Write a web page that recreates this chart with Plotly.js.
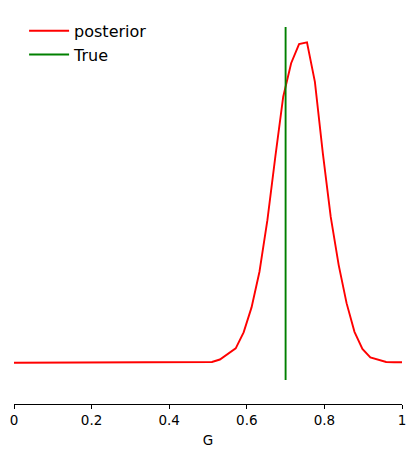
<!DOCTYPE html>
<html>
<head>
<meta charset="utf-8">
<script src="https://cdn.plot.ly/plotly-3.0.1.min.js"></script>
<style>html,body{margin:0;padding:0;background:#fff;}#chart{width:416px;height:457px;}</style>
</head>
<body>
<div id="chart"></div>
<script>
// Grid of G values (50 points from 0 to 1)
const gGrid = Array.from({length: 50}, (_, i) => i / 49);
// Posterior density
const posterior = [
  0,0,0,0,0,0,0,0,0,0,
  0,0,0,0,0,0,0,0,0,0,
  0,0,0,0,0.002,0.013,0.06,0.17,0.27,0.57,
  1.04,1.71,2.68,3.87,5.00,5.63,5.99,6.02,5.28,3.94,
  2.74,1.84,1.12,0.58,0.26,0.10,0.055,0.013,0.01,0.008
];
const trueG = 0.7;
const seriesNames = ['posterior', 'True'];
const xTicks = [0, 0.2, 0.4, 0.6, 0.8, 1];
const xTickText = ['0', '0.2', '0.4', '0.6', '0.8', '1'];

const yRange = [-0.776, 6.31];
// vertical "True" line spans from slightly below plot data area to top
const vBottom = yRange[0] + (yRange[1] - yRange[0]) * 0.0637;

const font = {family: 'DejaVu Sans, sans-serif', color: '#000'};

const traces = [
  {x: gGrid, y: posterior, type: 'scatter', mode: 'lines', name: seriesNames[0],
   line: {color: '#ff0000', width: 1.9}},
  {x: [trueG, trueG], y: [vBottom, yRange[1]], type: 'scatter', mode: 'lines', name: seriesNames[1],
   line: {color: '#008000', width: 1.9}}
];

const layout = {
  width: 416, height: 457,
  margin: {l: 14, r: 14, t: 27, b: 53, pad: 0},
  paper_bgcolor: '#fff', plot_bgcolor: '#fff',
  font: Object.assign({size: 13.5}, font),
  showlegend: true,
  legend: {x: 0.026, y: 1.035, xanchor: 'left', yanchor: 'top',
           font: Object.assign({size: 16}, font), bgcolor: 'rgba(0,0,0,0)',
           itemwidth: 40, tracegroupgap: 0},
  xaxis: {range: [0, 1], tickvals: xTicks, ticktext: xTickText,
          showline: true, linecolor: '#000', linewidth: 1,
          ticks: 'outside', ticklen: 4, tickcolor: '#000', tickwidth: 1,
          showgrid: false, zeroline: false,
          tickfont: Object.assign({size: 13.5}, font),
          title: {text: 'G', font: Object.assign({size: 13.5}, font), standoff: 8}},
  yaxis: {range: yRange, visible: false, showgrid: false, zeroline: false}
};

Plotly.newPlot('chart', traces, layout, {displayModeBar: false, staticPlot: true});
</script>
</body>
</html>
